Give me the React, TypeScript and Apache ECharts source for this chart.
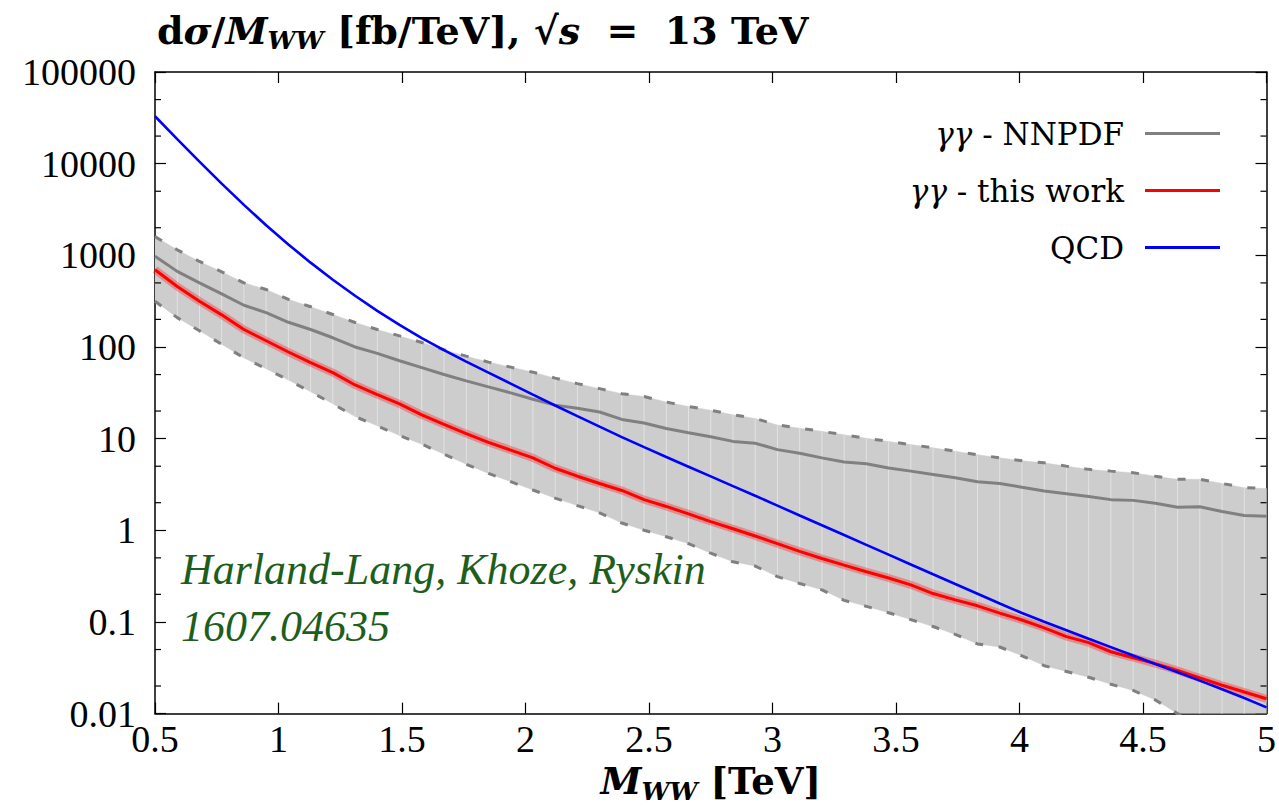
import React, { useEffect, useRef } from "react";
import * as echarts from "echarts";

// M_WW grid (TeV), bin edges of the calculation
const massTeV = [
  0.5, 0.59, 0.68, 0.77, 0.86, 0.95, 1.04, 1.13, 1.22, 1.31,
  1.4, 1.49, 1.58, 1.67, 1.76, 1.85, 1.94, 2.03, 2.12, 2.21,
  2.3, 2.39, 2.48, 2.57, 2.66, 2.75, 2.84, 2.93, 3.02, 3.11,
  3.2, 3.29, 3.38, 3.47, 3.56, 3.65, 3.74, 3.83, 3.92, 4.01,
  4.1, 4.19, 4.28, 4.37, 4.46, 4.55, 4.64, 4.73, 4.82, 4.91, 5.0,
];

// QCD (blue)
const qcd = [
  32890, 18490, 10520, 6053, 3548, 2128, 1312, 832, 542, 362,
  248, 174, 125, 92.3, 69.2, 52.5, 39.8, 30.2, 23.0, 17.6,
  13.5, 10.4, 8.07, 6.31, 4.94, 3.87, 3.03, 2.38, 1.86, 1.45,
  1.135, 0.887, 0.693, 0.542, 0.424, 0.331, 0.259, 0.203, 0.159, 0.125,
  0.1007, 0.0813, 0.0656, 0.0531, 0.043, 0.0348, 0.0282, 0.0229, 0.0184, 0.0148, 0.0117,
];

// gamma gamma - this work (red)
const photonThisWork = [
  697, 457, 316, 224, 155, 117, 88.1, 67.6, 52.5, 38.5,
  30.2, 23.9, 18.2, 14.3, 11.35, 9.12, 7.5, 6.17, 4.75, 3.89,
  3.24, 2.72, 2.16, 1.82, 1.51, 1.245, 1.04, 0.867, 0.714, 0.589,
  0.492, 0.417, 0.353, 0.302, 0.254, 0.204, 0.174, 0.15, 0.125, 0.105,
  0.0863, 0.0692, 0.0594, 0.0473, 0.0407, 0.0351, 0.0295, 0.0245, 0.0204, 0.0172, 0.0145,
];

// gamma gamma - NNPDF central (grey)
const photonNnpdf = [
  977, 668, 501, 380, 285, 237, 186, 155, 126, 100,
  85.1, 70.8, 59.6, 50.1, 42.7, 36.7, 31.6, 26.9, 23.2, 21.4,
  19.5, 16.2, 14.8, 12.9, 11.6, 10.5, 9.33, 8.91, 7.59, 6.92,
  6.17, 5.56, 5.32, 4.79, 4.42, 4.07, 3.75, 3.39, 3.24, 2.95,
  2.69, 2.51, 2.34, 2.16, 2.12, 1.97, 1.78, 1.81, 1.6, 1.45, 1.42,
];

// NNPDF uncertainty band, upper and lower edges (dashed)
const nnpdfUpper = [
  1600, 1148, 857, 661, 501, 424, 331, 275, 226, 185,
  155, 132, 112, 93.3, 79.4, 68.4, 60.3, 53.1, 45.7, 39.8,
  35.1, 30.9, 28.8, 25.1, 22.4, 20.4, 18.2, 16.6, 14.1, 13.0,
  12.0, 11.0, 10.1, 9.33, 8.61, 7.94, 7.29, 6.68, 6.17, 5.75,
  5.44, 5.01, 4.62, 4.42, 4.25, 3.89, 3.6, 3.6, 3.24, 2.92, 2.85,
];
const nnpdfLower = [
  316, 209, 150, 107, 75.9, 57.9, 43.6, 32.4, 24.0, 17.4,
  13.8, 10.8, 8.71, 6.76, 5.25, 4.17, 3.39, 2.75, 2.24, 1.86,
  1.55, 1.2, 1.0, 0.851, 0.714, 0.562, 0.453, 0.407, 0.312, 0.263,
  0.224, 0.172, 0.148, 0.126, 0.106, 0.0891, 0.0731, 0.0575, 0.0533, 0.0427,
  0.0333, 0.0288, 0.0249, 0.0209, 0.0179, 0.0141, 0.01, 0.0083, 0.0069, 0.0056, 0.0048,
];

// axis ranges and tick values
const xRange = [0.5, 5];
const yRange = [0.01, 100000];
const yMinorTicks = [0.02, 0.05, 0.2, 0.5, 2, 5, 20, 50, 200, 500, 2000, 5000, 20000, 50000];

const legendNames = ["γγ - NNPDF", "γγ - this work", "QCD"];
const annotationLines = ["Harland-Lang, Khoze, Ryskin", "1607.04635"];

const LS = "Liberation Serif";
const DS = "DejaVu Serif";

const pairs = (ys: number[]) => massTeV.map((m, i) => [m, ys[i]]);

export default function App() {
  const ref = useRef<HTMLDivElement>(null);

  useEffect(() => {
    if (!ref.current) return;
    const chart = echarts.init(ref.current, undefined, { renderer: "svg" });

    const bandData = massTeV.slice(0, -1).map((m, i) => [
      m, massTeV[i + 1], nnpdfUpper[i], nnpdfUpper[i + 1], nnpdfLower[i], nnpdfLower[i + 1], i,
    ]);

    const richTitle = {
      b: { fontFamily: DS, fontWeight: "bold", fontSize: 38, lineHeight: 46, color: "#000" },
      bi: { fontFamily: DS, fontWeight: "bold", fontStyle: "italic", fontSize: 38, lineHeight: 46, color: "#000" },
      sub: { fontFamily: DS, fontWeight: "bold", fontStyle: "italic", fontSize: 25, lineHeight: 26, verticalAlign: "bottom", color: "#000" },
      gap: { fontFamily: DS, fontSize: 38, lineHeight: 46, width: 14 },
    };
    const richAxis = {
      b: { ...richTitle.b, fontSize: 37 },
      bi: { ...richTitle.bi, fontSize: 37 },
      sub: richTitle.sub,
    };

    const axisLineStyle = { color: "#000", width: 1.5 };
    const tickStyle = { color: "#000", width: 1.2 };

    const option: any = {
      animation: false,
      backgroundColor: "#fff",
      title: {
        left: 152,
        top: 2,
        text: "{b|d}{bi|σ}{b|/}{bi|M}{sub|WW}{b| [fb/TeV],} {b|√}{bi|s}{b|  =  13 TeV}",
        textStyle: { fontFamily: DS, fontWeight: "bold", fontSize: 38, color: "#000", rich: richTitle },
      },
      grid: { left: 155, top: 72, width: 1120, height: 650, containLabel: false },
      legend: {
        data: legendNames,
        orient: "vertical",
        align: "right",
        right: 54,
        top: 113,
        icon: "rect",
        itemWidth: 75,
        itemHeight: 3,
        itemGap: 26,
        selectedMode: false,
        formatter: (name: string) =>
          name.startsWith("γγ") ? "{g|γγ}{n|" + name.slice(2) + "}" : "{n|" + name + "}",
        textStyle: {
          fontFamily: DS,
          fontSize: 31,
          color: "#000",
          padding: [0, 16, 0, 0],
          rich: {
            g: { fontFamily: DS, fontStyle: "italic", fontSize: 31, lineHeight: 40, color: "#000" },
            n: { fontFamily: DS, fontSize: 31, lineHeight: 40, color: "#000" },
          },
        },
      },
      xAxis: [
        {
          type: "value",
          min: xRange[0],
          max: xRange[1],
          interval: 0.5,
          position: "bottom",
          name: "{bi|M}{sub|WW}{b| [TeV]}",
          nameLocation: "middle",
          nameGap: 40,
          nameTextStyle: { fontFamily: DS, fontWeight: "bold", fontSize: 37, color: "#000", rich: richAxis },
          axisLine: { show: true, lineStyle: axisLineStyle },
          axisTick: { show: true, inside: true, length: 11, lineStyle: tickStyle },
          axisLabel: {
            fontFamily: LS, fontSize: 38, color: "#000", margin: 6,
            formatter: (v: number) => String(Number(v.toPrecision(4))),
          },
          splitLine: { show: false },
        },
        {
          type: "value",
          min: xRange[0],
          max: xRange[1],
          interval: 0.5,
          position: "top",
          axisLine: { show: true, lineStyle: axisLineStyle },
          axisTick: { show: true, inside: true, length: 11, lineStyle: tickStyle },
          axisLabel: { show: false },
          splitLine: { show: false },
        },
      ],
      yAxis: [
        {
          type: "log",
          logBase: 10,
          min: yRange[0],
          max: yRange[1],
          interval: 1,
          position: "left",
          axisLine: { show: true, lineStyle: axisLineStyle },
          axisTick: { show: true, inside: true, length: 11, lineStyle: tickStyle },
          axisLabel: {
            fontFamily: LS, fontSize: 38, color: "#000", margin: 19,
            padding: [0, 0, 10, 0],
            formatter: (v: number) => String(Number(v.toPrecision(3))),
          },
          splitLine: { show: false },
        },
        {
          type: "log",
          logBase: 10,
          min: yRange[0],
          max: yRange[1],
          interval: 1,
          position: "right",
          axisLine: { show: true, lineStyle: axisLineStyle },
          axisTick: { show: true, inside: true, length: 11, lineStyle: tickStyle },
          axisLabel: { show: false },
          splitLine: { show: false },
        },
      ],
      graphic: annotationLines.map((t, i) => ({
        type: "text",
        left: 181,
        top: 547 + i * 57,
        z: 20,
        style: {
          text: t,
          fontFamily: LS,
          fontStyle: "italic",
          fontSize: 44,
          fill: "#1d5e1d",
        },
      })),
      series: [
        {
          name: "band",
          type: "custom",
          coordinateSystem: "cartesian2d",
          clip: true,
          silent: true,
          z: 1,
          data: bandData,
          encode: { x: [0, 1], y: [2, 3, 4, 5] },
          renderItem: (params: any, api: any) => {
            const x0 = api.value(0), x1 = api.value(1);
            const u0 = api.coord([x0, api.value(2)]);
            const u1 = api.coord([x1, api.value(3)]);
            const l0 = api.coord([x0, api.value(4)]);
            const l1 = api.coord([x1, api.value(5)]);
            const children: any[] = [
              {
                type: "polygon",
                shape: { points: [u0, u1, l1, l0] },
                style: { fill: "#cdcdcd", stroke: "#cdcdcd", lineWidth: 0.4 },
              },
            ];
            if (api.value(6) > 0) {
              children.push({
                type: "line",
                shape: { x1: u0[0], y1: u0[1], x2: l0[0], y2: l0[1] },
                style: { stroke: "#e2e2e2", lineWidth: 1 },
              });
            }
            return { type: "group", children };
          },
        },
        {
          name: "upper",
          type: "line",
          data: pairs(nnpdfUpper),
          symbol: "none",
          silent: true,
          z: 2,
          lineStyle: { color: "#808080", width: 3, type: [8, 15.5], cap: "butt" },
        },
        {
          name: "lower",
          type: "line",
          data: pairs(nnpdfLower),
          symbol: "none",
          silent: true,
          z: 2,
          lineStyle: { color: "#808080", width: 3, type: [8, 15.5], cap: "butt" },
        },
        {
          name: "γγ - NNPDF",
          type: "line",
          data: pairs(photonNnpdf),
          symbol: "none",
          z: 3,
          color: "#808080",
          lineStyle: { color: "#808080", width: 3 },
        },
        {
          name: "this work halo",
          type: "line",
          data: pairs(photonThisWork),
          symbol: "none",
          silent: true,
          z: 3,
          lineStyle: { color: "rgba(255,0,0,0.3)", width: 8 },
        },
        {
          name: "γγ - this work",
          type: "line",
          data: pairs(photonThisWork),
          symbol: "none",
          z: 4,
          color: "#ff0000",
          lineStyle: { color: "#ff0000", width: 3 },
        },
        {
          name: "QCD",
          type: "line",
          data: pairs(qcd),
          symbol: "none",
          z: 5,
          color: "#0000ff",
          lineStyle: { color: "#0000ff", width: 2.6 },
        },
        {
          name: "minor ticks",
          type: "custom",
          coordinateSystem: "cartesian2d",
          silent: true,
          z: 10,
          data: yMinorTicks.map((v) => [xRange[0], v]),
          encode: { x: 0, y: 1 },
          renderItem: (params: any, api: any) => {
            const p = api.coord([xRange[0], api.value(1)]);
            const cs = params.coordSys;
            const st = { stroke: "#000", lineWidth: 1.2 };
            return {
              type: "group",
              children: [
                { type: "line", shape: { x1: cs.x, y1: p[1], x2: cs.x + 6, y2: p[1] }, style: st },
                { type: "line", shape: { x1: cs.x + cs.width - 6, y1: p[1], x2: cs.x + cs.width, y2: p[1] }, style: st },
              ],
            };
          },
        },
      ],
    };

    chart.setOption(option);
    return () => chart.dispose();
  }, []);

  return (
    <div
      ref={ref}
      style={{ position: "fixed", left: 0, top: 0, width: 1279, height: 809, background: "#fff" }}
    />
  );
}
